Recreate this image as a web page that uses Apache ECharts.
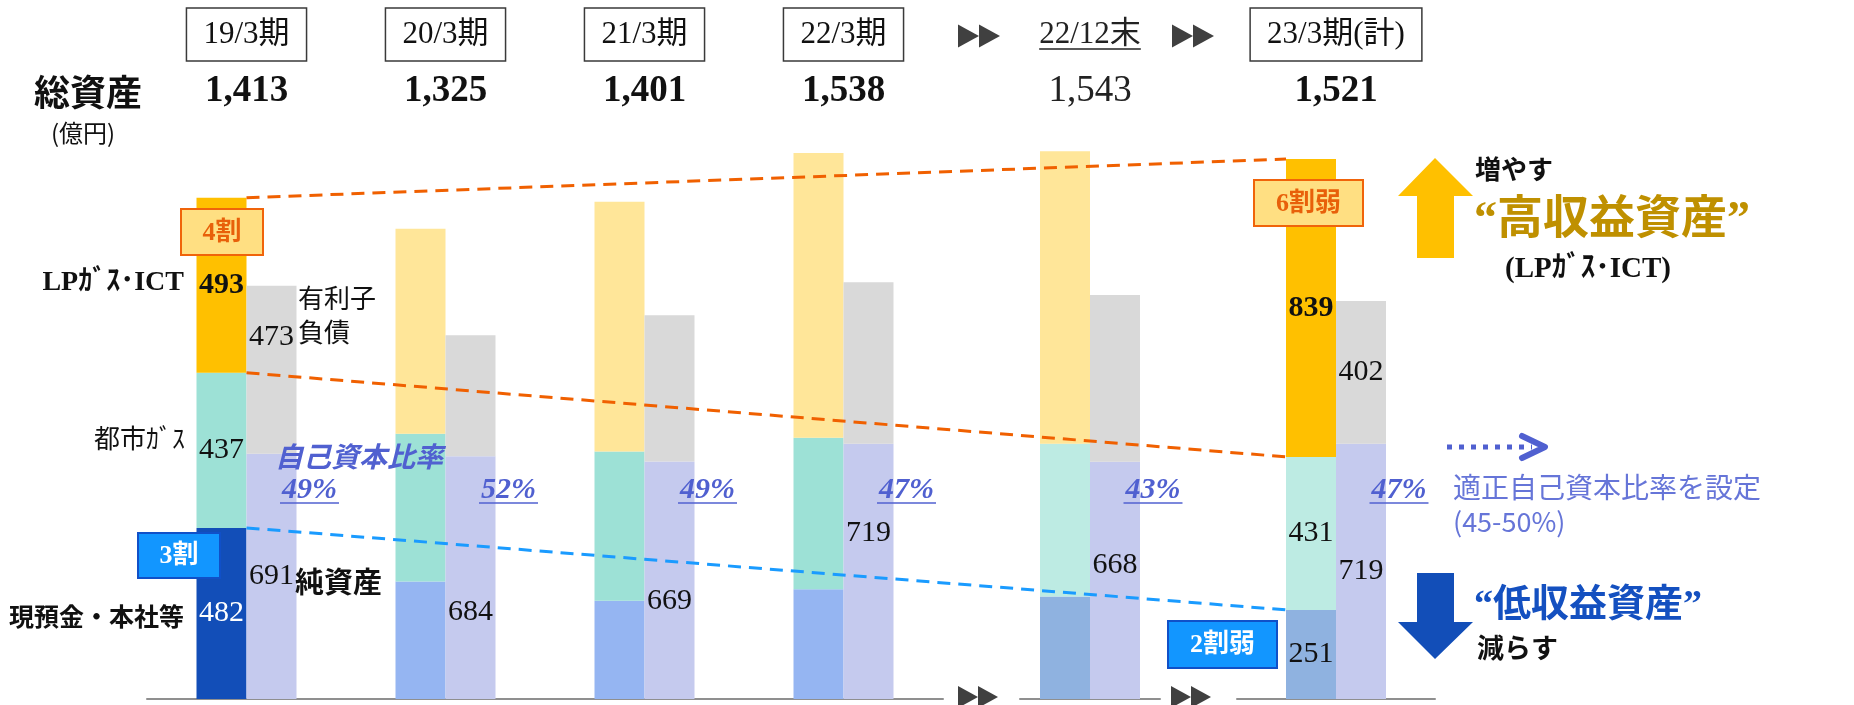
<!DOCTYPE html>
<html><head><meta charset="utf-8">
<script src="https://cdn.jsdelivr.net/npm/echarts@6/dist/echarts.min.js"></script>
<style>html,body{margin:0;padding:0;background:#fff}#c{width:1854px;height:705px}</style>
</head><body><div id="c"></div>
<script>
// ---- data ----
const periods = ['19/3期','20/3期','21/3期','22/3期','22/12末','23/3期(計)'];
const totalAssets = [1413,1325,1401,1538,1543,1521];
const cashHQ  = [482,331,277,309,289,251];   // 現預金・本社等
const cityGas = [437,416,420,427,430,431];   // 都市ガス
const lpIct   = [493,578,704,802,824,839];   // LPガス・ICT
const netAssets = [691,684,669,719,668,719]; // 純資産
const debt      = [473,341,412,455,470,402]; // 有利子負債
const equityRatio = [49,52,49,47,43,47];     // 自己資本比率 %

// ---- styles ----
const SERIF = "'Liberation Serif','Noto Sans CJK JP',serif";
const SANS = "'Noto Sans CJK JP','Noto Sans',sans-serif";
const lpColors   = ['#FFC000','#FFE699','#FFE699','#FFE699','#FFE699','#FFC000'];
const cityColors = ['#9DE1D6','#9DE1D6','#9DE1D6','#9DE1D6','#BDEBE3','#BDEBE3'];
const cashColors = ['#124EB8','#95B5F2','#95B5F2','#95B5F2','#8FB2E0','#8FB2E0'];
const netColor = '#C5CAEE', debtColor = '#D9D9D9';
const labeledCols = [0,5];
const netLabelShift = [0,35,21,-38,-15,0];
const debtLabelShift = [-33,0,0,0,0,0];

const gridOf = i => i < 4 ? 0 : (i === 4 ? 1 : 2);
const gridBoxes = [{left:147,width:796},{left:1020,width:140},{left:1237,width:198}];
const fmt = n => n.toLocaleString('en-US');

const chart = echarts.init(document.getElementById('c'));

const baseLabel = {position:'inside', fontFamily:SERIF, fontSize:30, color:'#111'};
const series = [];
for (let g = 0; g < 3; g++) {
  const idx = periods.map((p,i)=>i).filter(i=>gridOf(i)===g);
  const common = {type:'bar', xAxisIndex:g, yAxisIndex:g, barWidth:50, barGap:'0%', animation:false, label:baseLabel};
  series.push({...common, name:'現預金・本社等', stack:'a'+g,
    data: idx.map(i=>({value:cashHQ[i], itemStyle:{color:cashColors[i]},
      label:{show:labeledCols.includes(i), color: cashColors[i]==='#124EB8' ? '#fff' : '#111'}}))});
  series.push({...common, name:'都市ガス', stack:'a'+g,
    data: idx.map(i=>({value:cityGas[i], itemStyle:{color:cityColors[i]}, label:{show:labeledCols.includes(i)}}))});
  series.push({...common, name:'LPガス・ICT', stack:'a'+g,
    data: idx.map(i=>({value:lpIct[i], itemStyle:{color:lpColors[i]}, label:{show:labeledCols.includes(i), fontWeight:'bold'}}))});
  series.push({...common, name:'純資産', stack:'l'+g,
    data: idx.map(i=>({value:netAssets[i], itemStyle:{color:netColor}, label:{show:true, offset:[0,netLabelShift[i]]}}))});
  series.push({...common, name:'有利子負債', stack:'l'+g,
    data: idx.map(i=>({value:debt[i], itemStyle:{color:debtColor}, label:{show:labeledCols.includes(i), offset:[0,debtLabelShift[i]]}}))});
}

const catsOf = g => periods.filter((p,i)=>gridOf(i)===g);
const xBottom = [0,1,2].map(g=>({type:'category', gridIndex:g, data:catsOf(g),
  axisLine:{show:true, lineStyle:{color:'#8f8f8f', width:2}}, axisTick:{show:false}, axisLabel:{show:false}}));
const xTop = [0,1,2].map(g=>({type:'category', gridIndex:g, position:'top', data:catsOf(g),
  axisLine:{show:false}, axisTick:{show:false},
  axisLabel:{interval:0, margin:2,
    formatter: v => { const i = periods.indexOf(v); const end = v.endsWith('末');
      return '{' + (end?'ul':'box') + '|' + v + '}\n{' + (end?'tr':'tb') + '|' + fmt(totalAssets[i]) + '}'; },
    rich:{
      box:{fontFamily:SERIF, fontSize:31, color:'#111', borderColor:'#3a3a3a', borderWidth:1.5, padding:[11,17,11,17], lineHeight:37},
      ul:{fontFamily:SERIF, fontSize:31, color:'#222', padding:[11,0,11,0], lineHeight:37},
      tb:{fontFamily:SERIF, fontSize:37, fontWeight:'bold', color:'#111', lineHeight:76},
      tr:{fontFamily:SERIF, fontSize:37, color:'#222', lineHeight:76}
    }}}));

chart.setOption({
  animation:false,
  grid: gridBoxes.map(b=>({left:b.left, width:b.width, top:131, bottom:6, outerBoundsMode:'none', containLabel:false})),
  xAxis: xBottom.concat(xTop),
  yAxis: [0,1,2].map(g=>({type:'value', gridIndex:g, min:0, max:1600, show:false, splitLine:{show:false}})),
  series
});

// ---- annotations (positions derived from the chart scales where tied to data) ----
const px = (i, v) => chart.convertToPixel({xAxisIndex:gridOf(i), yAxisIndex:gridOf(i)}, [periods[i], v]);
const BW = 50;
const last = periods.length - 1;
const xL = px(0,0)[0], xR = px(last,0)[0] - BW;
const yv = v => px(0, v)[1];
const sum3 = i => cashHQ[i] + cityGas[i] + lpIct[i];

const canvas = document.createElement('canvas').getContext('2d');
const measure = (text, font) => { canvas.font = font; return canvas.measureText(text).width; };

const G = [];
const dash = (x1,y1,x2,y2,color) => G.push({type:'line', z:50, shape:{x1,y1,x2,y2}, style:{stroke:color, lineWidth:3, lineDash:[13,8]}});
dash(xL, yv(sum3(0)), xR, yv(sum3(last)), '#F06000');
dash(xL, yv(cashHQ[0]+cityGas[0]), xR, yv(cashHQ[last]+cityGas[last]), '#F06000');
dash(xL, yv(cashHQ[0]), xR, yv(cashHQ[last]), '#1A9BFF');

const txt = (text, x, y, st, z) => G.push({type:'text', z: z || 60, x, y, style:Object.assign({text, fill:'#111', fontFamily:SERIF, fontSize:26, align:'left', verticalAlign:'middle'}, st)});

// equity ratio labels
equityRatio.forEach((r,i)=>{
  const cx = px(i,0)[0] + 63;
  const s = r + '%';
  txt(s, cx, 490, {fill:'#5060D0', fontStyle:'italic', fontWeight:'bold', fontSize:30, align:'center'});
  const w = measure(s, 'italic bold 30px "Liberation Serif"');
  G.push({type:'line', z:60, shape:{x1:cx-w/2-2, y1:503, x2:cx+w/2+2, y2:503}, style:{stroke:'#5060D0', lineWidth:1.5}});
});
// underline for 22/12末
{
  const cx = px(4,0)[0];
  const w = measure('22/12末', '31px "Liberation Serif","Noto Sans CJK JP"');
  G.push({type:'line', z:60, shape:{x1:cx-w/2, y1:49, x2:cx+w/2, y2:49}, style:{stroke:'#222', lineWidth:1.5}});
}
txt('自己資本比率', 275, 456, {fill:'#5060D0', fontStyle:'italic', fontWeight:'bold', fontSize:28, fontFamily:SANS});

// left category labels
txt('LPｶﾞｽ･ICT', 184, 283, {fontWeight:'bold', fontSize:28, align:'right'});
txt('都市ｶﾞｽ', 185, 438, {fontSize:26, align:'right', fontFamily:SANS});
txt('現預金・本社等', 184, 616, {fontWeight:'bold', fontSize:25, align:'right', fontFamily:SANS});
txt('有利子\n負債', 298, 315, {fontSize:26, lineHeight:34, fontFamily:SANS});
txt('純資産', 295, 582, {fontWeight:'bold', fontSize:29, fontFamily:SANS});

// badges
const badge = (text, x, y, w, h, fill, stroke, color) => {
  G.push({type:'rect', z:70, shape:{x, y, width:w, height:h}, style:{fill, stroke, lineWidth:2}});
  txt(text, x+w/2, y+h/2+1, {fill:color, fontWeight:'bold', fontSize:26, align:'center'}, 72);
};
badge('4割', 181, 209, 82, 46, '#FFDF82', '#F0640A', '#E8600A');
badge('6割弱', 1254, 180, 109, 46, '#FFDF82', '#F0640A', '#E8600A');
badge('3割', 138, 533, 82, 45, '#1296FF', '#1050C8', '#fff');
badge('2割弱', 1168, 621, 109, 47, '#1296FF', '#1050C8', '#fff');

// ▶▶ separators
const ff = (x, cy, w, h) => {
  G.push({type:'polygon', z:40, shape:{points:[[x,cy-h/2],[x,cy+h/2],[x+w,cy]]}, style:{fill:'#404040'}});
  G.push({type:'polygon', z:40, shape:{points:[[x+w,cy-h/2],[x+w,cy+h/2],[x+2*w,cy]]}, style:{fill:'#404040'}});
};
ff(958, 36, 21, 23); ff(1172, 36, 21, 23);
ff(958, 697, 20, 22); ff(1171, 697, 20, 22);

// right side annotations
G.push({type:'polygon', z:40, shape:{points:[[1435,158],[1473,196],[1454,196],[1454,258],[1417,258],[1417,196],[1398,196]]}, style:{fill:'#FFC000'}});
txt('増やす', 1475, 169, {fontWeight:'bold', fontSize:26, fontFamily:SANS});
txt('“高収益資産”', 1474, 221, {fontWeight:'bold', fontSize:46, fill:'#BF9000'});
txt('(LPｶﾞｽ･ICT)', 1505, 270, {fontWeight:'bold', fontSize:29});

G.push({type:'line', z:40, shape:{x1:1447, y1:447, x2:1532, y2:447}, style:{stroke:'#5060D0', lineWidth:5, lineDash:[5,7]}});
G.push({type:'polyline', z:40, shape:{points:[[1522,436],[1545,447],[1522,458]]}, style:{stroke:'#5060D0', lineWidth:6, lineJoin:'round', lineCap:'round', fill:null}});
txt('適正自己資本比率を設定', 1453, 487, {fontSize:28, fill:'#6675D8', fontFamily:SANS});
txt('(45-50%)', 1453, 522, {fontSize:27, fill:'#6675D8', fontFamily:SANS});

G.push({type:'polygon', z:40, shape:{points:[[1417,573],[1454,573],[1454,622],[1473,622],[1435,659],[1398,622],[1417,622]]}, style:{fill:'#124EB8'}});
txt('“低収益資産”', 1474, 606, {fontWeight:'bold', fontSize:38, fill:'#1450C0'});
txt('減らす', 1477, 648, {fontWeight:'bold', fontSize:27, fontFamily:SANS});

// 総資産 (億円)
txt('総資産', 34, 92, {fontWeight:'bold', fontSize:36, fontFamily:SANS});
txt('(億円)', 51, 133, {fontSize:24, fontFamily:SANS});

chart.setOption({graphic:{elements:G}});
</script></body></html>
